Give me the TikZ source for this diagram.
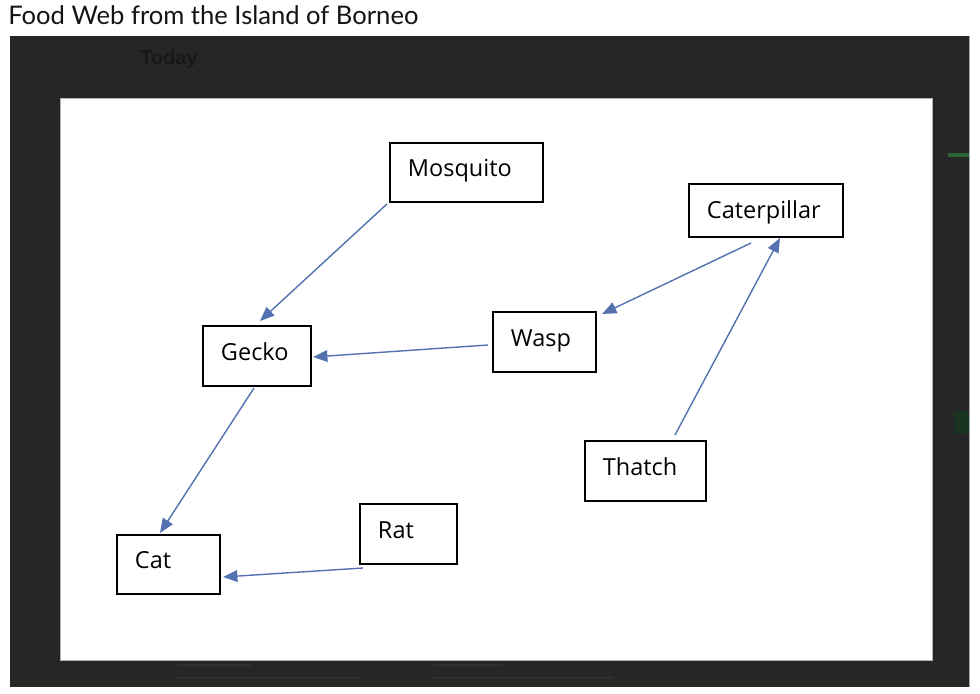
\documentclass[tikz,border=0pt]{standalone}
\usepackage{fontspec}
\setmainfont{Open Sans}
\newfontfamily\titlefont{Lato}
\newfontfamily\todayfont{Liberation Sans}
\usetikzlibrary{arrows.meta,calc}
\definecolor{framecol}{RGB}{38,38,38}
\definecolor{fainttext}{RGB}{47,47,47}
\definecolor{todaycol}{RGB}{24,24,24}
\definecolor{arrowcol}{RGB}{84,114,176}
\definecolor{iconcol}{RGB}{24,52,32}
\definecolor{greenbar}{RGB}{40,100,52}
\begin{document}
\begin{tikzpicture}[x=0.025cm,y=-0.025cm,
  box/.style={draw=black, line width=1.1pt, fill=white, inner xsep=0.45cm, inner ysep=0pt,
    outer sep=0pt, align=left, text height=0.4175cm, text depth=0.2cm,
    font=\fontsize{16.7pt}{19pt}\selectfont},
  link/.style={draw=arrowcol, line width=1pt, -{Triangle[length=0.36cm,width=0.29cm]}},
  faint/.style={draw=fainttext, line width=1.6pt}]
\useasboundingbox[fill=white] (0,0) rectangle (980,694);

% title
\node[anchor=base west, inner sep=0, font=\titlefont\fontsize{18.2pt}{21pt}\selectfont, text=black!92] (title) at (8,25) {Food Web from the Island of Borneo};

% screenshot frame
\fill[framecol] (10,36) rectangle (969,687);
\draw[gray!70, line width=0.4pt] (969,36) -- (969,687);
\node[anchor=base west, inner sep=0, font=\todayfont\bfseries\fontsize{14.2pt}{16pt}\selectfont, text=todaycol] (today) at (140,65) {Today};
\fill[greenbar] (948,153) rectangle (969,157);
\fill[iconcol] (954,411) rectangle (969,434);
\draw[faint] (177,665) -- (252,665);
\draw[faint] (177,678) -- (360,678);
\draw[faint] (433,665) -- (503,665);
\draw[faint] (433,678) -- (613,678);

% white canvas
\fill[white] (60,98) rectangle (932,660);
\draw[gray!60, line width=0.5pt] (60,98) rectangle (932,660);

% nodes
\node[box, text width=2.925cm, minimum height=1.475cm] (mos) at (466.5,172.5) {Mosquito};
\node[box, text width=1.8cm, minimum height=1.5cm] (gecko) at (257,356) {Gecko};
\node[box, text width=1.675cm, minimum height=1.5cm] (wasp) at (544.5,342) {Wasp};
\node[box, text width=2.95cm, minimum height=1.325cm, text depth=0.04cm] (cater) at (766,210.5) {Caterpillar};
\node[box, text width=2.125cm, minimum height=1.5cm] (thatch) at (645.5,471) {Thatch};
\node[box, text width=1.675cm, minimum height=1.475cm] (cat) at (168.5,564.5) {Cat};
\node[box, text width=1.525cm, minimum height=1.5cm] (rat) at (408.5,534) {Rat};

% connectors
\draw[link] ($(mos.south west)+(-3,2)$) -- ($(gecko.north)+(3,-5)$);
\draw[link] ($(wasp.west)+(-5,3)$) -- ($(gecko.east)+(2,1)$);
\draw[link] ($(cater.south)+(-15,6)$) -- ($(wasp.north east)+(6,2)$);
\draw[link] ($(thatch.north)+(29.5,-6)$) -- ($(cater.south)+(14,1)$);
\draw[link] ($(gecko.south)+(-3,2)$) -- ($(cat.north)+(-8.5,-2)$);
\draw[link] ($(rat.south west)+(3,4)$) -- ($(cat.east)+(3,12.5)$);
\end{tikzpicture}
\end{document}
